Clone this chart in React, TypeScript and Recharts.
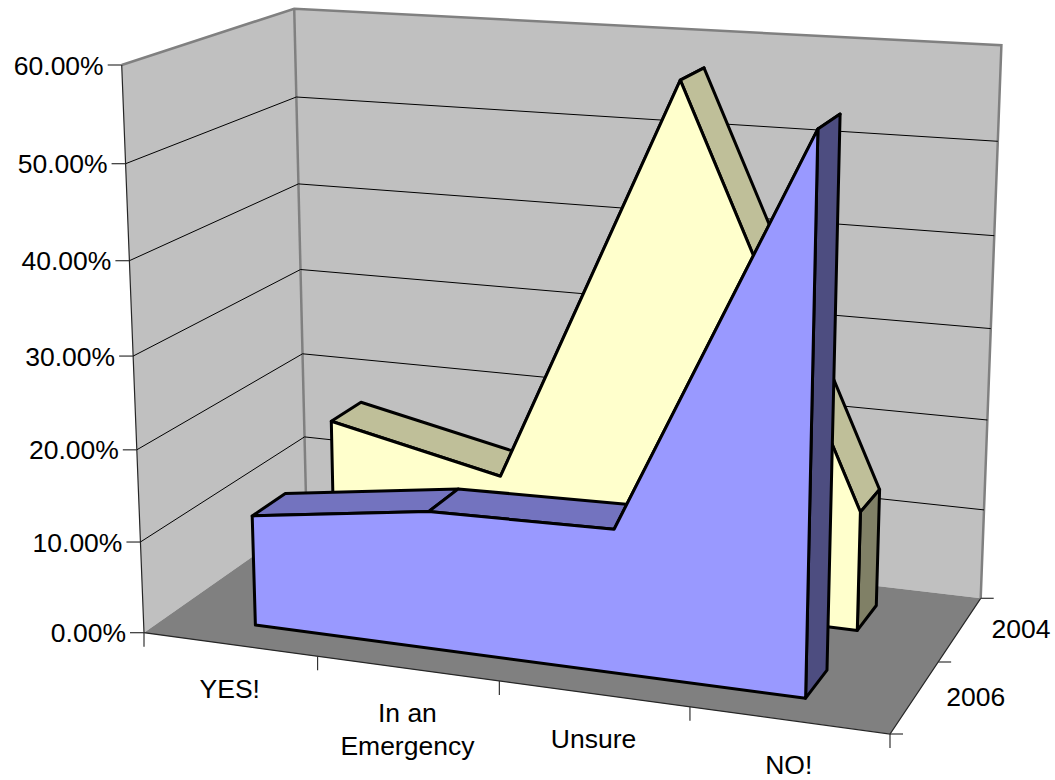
import React from 'react';
import { ComposedChart, Line, XAxis, YAxis, CartesianGrid } from 'recharts';

const categories = ['YES!', 'In an Emergency', 'Unsure', 'NO!'];
const values2004 = [0.168, 0.126, 0.57, 0.13];
const values2006 = [0.121, 0.148, 0.152, 0.568];
const depthLabels = ['2006', '2004'];
const yTicks = [0, 0.1, 0.2, 0.3, 0.4, 0.5, 0.6];

const data = categories.map((name, i) => ({ name, y2004: values2004[i], y2006: values2006[i] }));

const W = 1055;
const H = 780;
const AXIS = 1; // the axes need a non-zero size or they draw nothing
const FONT = '"Liberation Sans", Arial, sans-serif';
const toU = (x: number) => (x - AXIS) / (W - AXIS);
const toV = (y: number) => 1 - y / (H - AXIS);

// corners of the 3D box on screen, used to build the perspective mapping
const O = [144, 632.7];
const U = [890, 734];
const V = [121.7, 65];
const B = [306.5, 518.7];
const UB = [980.7, 598.3];
const VB = [293.3, 9];
const UVB = [1001.7, 48.3];

const det = (U[0] - UB[0]) * (B[1] - UB[1]) - (B[0] - UB[0]) * (U[1] - UB[1]);
const rx = UB[0] - U[0] - B[0] + O[0];
const ry = UB[1] - U[1] - B[1] + O[1];
const pd = (rx * (B[1] - UB[1]) - (B[0] - UB[0]) * ry) / det;
const pf = ((U[0] - UB[0]) * ry - rx * (U[1] - UB[1])) / det;
let eNum = 0;
let eDen = 0;
[0, 1].forEach((k) => {
  const a1 = V[k] - VB[k];
  const b1 = VB[k] - V[k] - B[k] + O[k] - pf * (B[k] - VB[k]);
  const a2 = V[k] - UVB[k];
  const b2 = UVB[k] * (1 + pd + pf) - U[k] * (1 + pd) - V[k] - B[k] * (1 + pf) + 2 * O[k];
  eNum += a1 * b1 + a2 * b2;
  eDen += a1 * a1 + a2 * a2;
});
const pe = eNum / eDen;

// u = along categories, v = up the value axis, w = into the depth
const proj = (u: number, v: number, w: number): [number, number] => {
  const den = 1 + pd * u + pe * v + pf * w;
  const f = (k: number) =>
    (O[k] + (U[k] * (1 + pd) - O[k]) * u + (V[k] * (1 + pe) - O[k]) * v + (B[k] * (1 + pf) - O[k]) * w) / den;
  return [f(0), f(1)];
};

const poly = (pts: [number, number][]) => pts.map((p) => p[0].toFixed(1) + ',' + p[1].toFixed(1)).join(' ');

const Backdrop = () => (
  <g>
    <polygon points={poly([proj(0, 0, 0), proj(0, 1, 0), proj(0, 1, 1), proj(0, 0, 1)])} fill="#C0C0C0" />
    <polygon points={poly([proj(0, 0, 1), proj(0, 1, 1), proj(1, 1, 1), proj(1, 0, 1)])} fill="#C0C0C0" />
    <polygon points={poly([proj(0, 0, 0), proj(1, 0, 0), proj(1, 0, 1), proj(0, 0, 1)])} fill="#808080" />
    <polyline points={poly([proj(0, 1, 0), proj(0, 1, 1), proj(1, 1, 1), proj(1, 0, 1)])} fill="none" stroke="#808080" strokeWidth={2.5} />
    <line x1={proj(0, 1, 1)[0]} y1={proj(0, 1, 1)[1]} x2={proj(0, 0, 1)[0]} y2={proj(0, 0, 1)[1]} stroke="#808080" strokeWidth={2.5} />
    <polyline points={poly([proj(0, 1, 0), proj(0, 0, 0), proj(1, 0, 0), proj(1, 0, 1)])} fill="none" stroke="#262626" strokeWidth={1.2} />
  </g>
);

// the walls go in with the first grid line so the others land on top of them
const GridLine = (props: any) => {
  const v = toV(props.y1);
  const inner = v > 0.001 && v < 0.999;
  return (
    <g key={props.key}>
      {props.index === 0 && <Backdrop />}
      {inner && (
        <polyline points={poly([proj(0, v, 0), proj(0, v, 1), proj(1, v, 1)])} fill="none" stroke="#000" strokeWidth={1} />
      )}
    </g>
  );
};

const Tick = ({ a, b }: { a: [number, number]; b: [number, number] }) => (
  <line x1={a[0]} y1={a[1]} x2={b[0]} y2={b[1]} stroke="#333" strokeWidth={1.2} />
);

const YTick = (props: any) => {
  const v = toV(props.y);
  const p = proj(0, v, 0);
  return (
    <g>
      <Tick a={p} b={[p[0] - 14, p[1]]} />
      <text x={p[0] - 18} y={p[1] + 9.5} textAnchor="end" fontSize={26.5} fontFamily={FONT} fill="#000">
        {(props.payload.value * 100).toFixed(2) + '%'}
      </text>
    </g>
  );
};

const XTick = (props: any) => {
  const u = toU(props.x);
  const p = proj(u, 0, 0);
  const left = proj(u - 0.125, 0, 0);
  const right = proj(u + 0.125, 0, 0);
  const words = String(props.payload.value) === 'In an Emergency' ? ['In an', 'Emergency'] : [String(props.payload.value)];
  return (
    <g>
      <Tick a={left} b={[left[0], left[1] + 14]} />
      {props.index === categories.length - 1 && <Tick a={right} b={[right[0], right[1] + 14]} />}
      {words.map((word, i) => (
        <text key={word} x={p[0]} y={p[1] + 54 + i * 33} textAnchor="middle" fontSize={26.5} fontFamily={FONT} fill="#000">
          {word}
        </text>
      ))}
    </g>
  );
};

const DepthAxis = () => (
  <g>
    {[0, 0.5, 1].map((w) => {
      const p = proj(1, 0, w);
      return <Tick key={w} a={p} b={[p[0] + 13, p[1]]} />;
    })}
    {depthLabels.map((label, i) => {
      const p = proj(1, 0, 0.25 + i * 0.5);
      return (
        <text key={label} x={p[0] + 61} y={p[1] + 9} textAnchor="middle" fontSize={26.5} fontFamily={FONT} fill="#000">
          {label}
        </text>
      );
    })}
  </g>
);

// the invisible line hands its scaled points over, the ribbon is built from them
const ribbonDot = (w0: number, w1: number, front: string, top: string, side: string) => (props: any) => {
  if (props.index !== 0) return <g key={props.index} />;
  const pts = props.points.map((p: any) => [toU(p.x), toV(p.y)]);
  const line = { stroke: '#000', strokeWidth: 3, strokeLinejoin: 'round' as const };
  const last = pts[pts.length - 1];
  const first = pts[0];
  return (
    <g key="ribbon">
      {pts.slice(0, -1).map((p: number[], i: number) => {
        const q = pts[i + 1];
        return (
          <polygon
            key={i}
            points={poly([proj(p[0], p[1], w0), proj(q[0], q[1], w0), proj(q[0], q[1], w1), proj(p[0], p[1], w1)])}
            fill={top}
            {...line}
          />
        );
      })}
      <polygon
        points={poly([proj(last[0], 0, w0), proj(last[0], last[1], w0), proj(last[0], last[1], w1), proj(last[0], 0, w1)])}
        fill={side}
        {...line}
      />
      <polygon
        points={poly([
          proj(first[0], 0, w0),
          ...pts.map((p: number[]) => proj(p[0], p[1], w0)),
          proj(last[0], 0, w0),
        ])}
        fill={front}
        {...line}
      />
    </g>
  );
};

export default function App() {
  return (
    <div style={{ position: 'absolute', left: 0, top: 0 }}>
      <ComposedChart width={W} height={H} data={data} margin={{ top: 0, right: 0, bottom: 0, left: 0 }}>
        <CartesianGrid vertical={false} horizontal={(p: any) => <GridLine {...p} />} />
        <XAxis dataKey="name" scale="band" height={AXIS} axisLine={false} tickLine={false} interval={0} tick={<XTick />} />
        <YAxis width={AXIS} domain={[0, 0.6]} ticks={yTicks} axisLine={false} tickLine={false} interval={0} tick={<YTick />} />
        <Line dataKey="y2004" stroke="none" isAnimationActive={false} dot={ribbonDot(0.65, 0.85, '#FFFFCC', '#BFBF99', '#808066')} />
        <Line dataKey="y2006" stroke="none" isAnimationActive={false} dot={ribbonDot(0.15, 0.35, '#9999FF', '#7373BF', '#4D4D80')} />
        <DepthAxis />
      </ComposedChart>
    </div>
  );
}
